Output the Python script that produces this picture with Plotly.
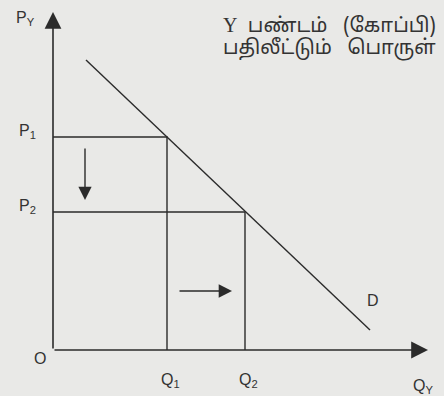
import plotly.graph_objects as go

# axis extents (quantity of Y, price of Y)
q_axis_end = 37.5
p_axis_end = 33.8

# demand curve D, end points
demand_q = [3.3, 31.7]
demand_p = [29.0, 2.0]

# the two price / quantity pairs
price_levels = [21.3, 13.8]
quantity_levels = [11.4, 19.2]
price_labels = ["P<sub>1</sub>", "P<sub>2</sub>"]
quantity_labels = ["Q<sub>1</sub>", "Q<sub>2</sub>"]

# movement arrows: price falls, quantity rises
price_arrow_q = 3.2
price_arrow_p = [20.3, 15.0]
qty_arrow_p = 5.9
qty_arrow_q = [12.5, 17.9]

note_lines = ["<span style='font-family:Liberation Serif'>Y</span>&nbsp;&nbsp;பண்டம்&nbsp;&nbsp;&nbsp;(கோப்பி)",
              "பதிலீட்டும்&nbsp;&nbsp;&nbsp;பொருள்"]

ink = "#2b2b2b"
font = dict(family="Liberation Sans, Arial, sans-serif", size=16, color="#333")

fig = go.Figure()

# demand line
fig.add_trace(go.Scatter(x=demand_q, y=demand_p, mode="lines",
                         line=dict(color=ink, width=1.4), hoverinfo="skip"))

# guide lines from the axes to the curve
for p, q in zip(price_levels, quantity_levels):
    fig.add_trace(go.Scatter(x=[0, q, q], y=[p, p, 0], mode="lines",
                             line=dict(color=ink, width=1.4), hoverinfo="skip"))

arrows = [
    # y axis
    dict(x=0, y=p_axis_end, ax=0, ay=0, arrowsize=2.1, arrowwidth=1.6),
    # x axis
    dict(x=q_axis_end, y=0, ax=0, ay=0, arrowsize=2.1, arrowwidth=1.6),
    dict(x=price_arrow_q, y=price_arrow_p[1], ax=price_arrow_q, ay=price_arrow_p[0],
         arrowsize=1.9, arrowwidth=1.4),
    dict(x=qty_arrow_q[1], y=qty_arrow_p, ax=qty_arrow_q[0], ay=qty_arrow_p,
         arrowsize=1.9, arrowwidth=1.4),
]
for a in arrows:
    fig.add_annotation(text="", showarrow=True, xref="x", yref="y", axref="x", ayref="y",
                       arrowhead=2, arrowcolor=ink, standoff=0, startstandoff=0, **a)

labels = [
    ("P<sub>Y</sub>", -2.8, 33.2),
    (price_labels[0], -2.6, price_levels[0] + 0.6),
    (price_labels[1], -2.6, price_levels[1] + 0.6),
    ("O", -1.3, -0.8),
    (quantity_labels[0], quantity_levels[0] + 0.3, -3.0),
    (quantity_labels[1], quantity_levels[1] + 0.3, -3.0),
    ("Q<sub>Y</sub>", 37.0, -3.6),
    ("D", 32.0, 5.0),
]
for text, x, y in labels:
    fig.add_annotation(text=text, x=x, y=y, xref="x", yref="y", showarrow=False, font=font)

for i, line in enumerate(note_lines):
    fig.add_annotation(text=line, x=38.5, y=32.4 - i * 2.2, xref="x", yref="y",
                       xanchor="right", showarrow=False,
                       font=dict(family="Noto Sans Tamil, Noto Sans, sans-serif", size=20, color="#333"))

fig.update_layout(
    width=444, height=396,
    margin=dict(l=0, r=0, t=0, b=0),
    paper_bgcolor="#e9e9e7", plot_bgcolor="#e9e9e7",
    showlegend=False,
    xaxis=dict(range=[-5.3, 39.1], visible=False, fixedrange=True),
    yaxis=dict(range=[-4.6, 35.0], visible=False, fixedrange=True),
)

fig.write_html("out.html", config={"displayModeBar": False},
               post_script="document.body.style.margin='0';")
